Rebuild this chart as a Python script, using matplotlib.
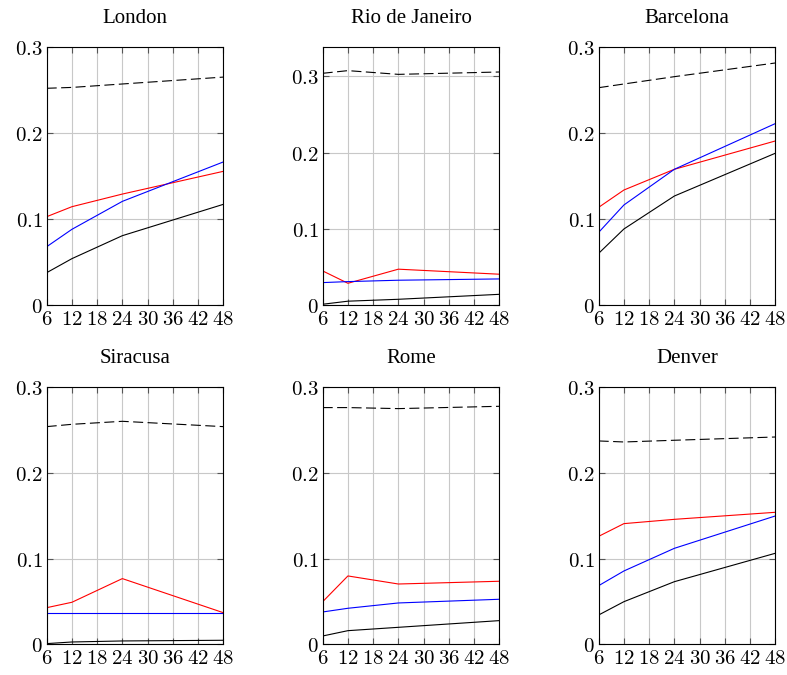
import matplotlib
matplotlib.use("Agg")
import matplotlib.pyplot as plt

plt.rcParams['mathtext.fontset'] = 'cm'

x = [6, 12, 24, 48]
xticks = [6, 12, 18, 24, 30, 36, 42, 48]

cities = ["London", "Rio de Janeiro", "Barcelona", "Siracusa", "Rome", "Denver"]

dashed = {
    "London": [0.252, 0.253, 0.257, 0.265],
    "Rio de Janeiro": [0.304, 0.3075, 0.3026, 0.3057],
    "Barcelona": [0.2527, 0.257, 0.2655, 0.2814],
    "Siracusa": [0.2538, 0.2565, 0.260, 0.2538],
    "Rome": [0.276, 0.276, 0.2748, 0.2775],
    "Denver": [0.2371, 0.2359, 0.2379, 0.2417],
}
red = {
    "London": [0.1027, 0.1143, 0.129, 0.1554],
    "Rio de Janeiro": [0.0447, 0.0285, 0.047, 0.0404],
    "Barcelona": [0.1136, 0.1337, 0.1578, 0.1907],
    "Siracusa": [0.0427, 0.049, 0.0766, 0.0369],
    "Rome": [0.0497, 0.0797, 0.0703, 0.0735],
    "Denver": [0.1259, 0.1407, 0.1457, 0.1539],
}
blue = {
    "London": [0.0678, 0.088, 0.1205, 0.1663],
    "Rio de Janeiro": [0.0294, 0.0307, 0.0325, 0.0342],
    "Barcelona": [0.0845, 0.1163, 0.1578, 0.2109],
    "Siracusa": [0.0365, 0.0365, 0.0365, 0.0365],
    "Rome": [0.0377, 0.042, 0.0482, 0.0525],
    "Denver": [0.0684, 0.0855, 0.1119, 0.1496],
}
black = {
    "London": [0.0376, 0.0539, 0.0806, 0.117],
    "Rio de Janeiro": [0.001, 0.005, 0.0075, 0.014],
    "Barcelona": [0.0601, 0.0884, 0.1267, 0.1764],
    "Siracusa": [0.0008, 0.0027, 0.0039, 0.0047],
    "Rome": [0.0097, 0.0159, 0.0198, 0.0276],
    "Denver": [0.0342, 0.0497, 0.073, 0.1061],
}
ymax = {
    "London": 0.3, "Rio de Janeiro": 0.3385, "Barcelona": 0.3,
    "Siracusa": 0.3, "Rome": 0.3, "Denver": 0.3,
}
yticks = [0, 0.1, 0.2, 0.3]
yticklabels = ["0", "0.1", "0.2", "0.3"]

W, H = 787, 675
fig = plt.figure(figsize=(W / 100, H / 100), dpi=100)

lefts = [46.7, 322.7, 598.7]
rows = [(47, 305), (387, 644.3)]
axw = 176.5

for i, city in enumerate(cities):
    r, c = divmod(i, 3)
    top, bot = rows[r]
    ax = fig.add_axes([lefts[c] / W, 1 - bot / H, axw / W, (bot - top) / H])
    ax.plot(x, dashed[city], color='black', lw=0.8, dashes=(9, 4))
    ax.plot(x, red[city], color='red', lw=0.8)
    ax.plot(x, blue[city], color='blue', lw=0.8)
    ax.plot(x, black[city], color='black', lw=0.8)
    ax.set_xlim(6, 48)
    ax.set_ylim(0, ymax[city])
    ax.set_xticks(xticks)
    ax.set_xticklabels([f"${t}$" for t in xticks])
    ax.set_yticks(yticks)
    ax.set_yticklabels([f"${t}$" for t in yticklabels])
    ax.grid(True, color='#c8c8c8', lw=0.8)
    ax.set_axisbelow(True)
    ax.tick_params(direction='in', top=True, right=True, length=4,
                   color='#555555', labelsize=15, pad=3)
    for s in ax.spines.values():
        s.set_linewidth(0.8)
    ax.set_title(city, fontsize=15, family='Liberation Serif', pad=17)

fig.savefig("out.png", dpi=100)
